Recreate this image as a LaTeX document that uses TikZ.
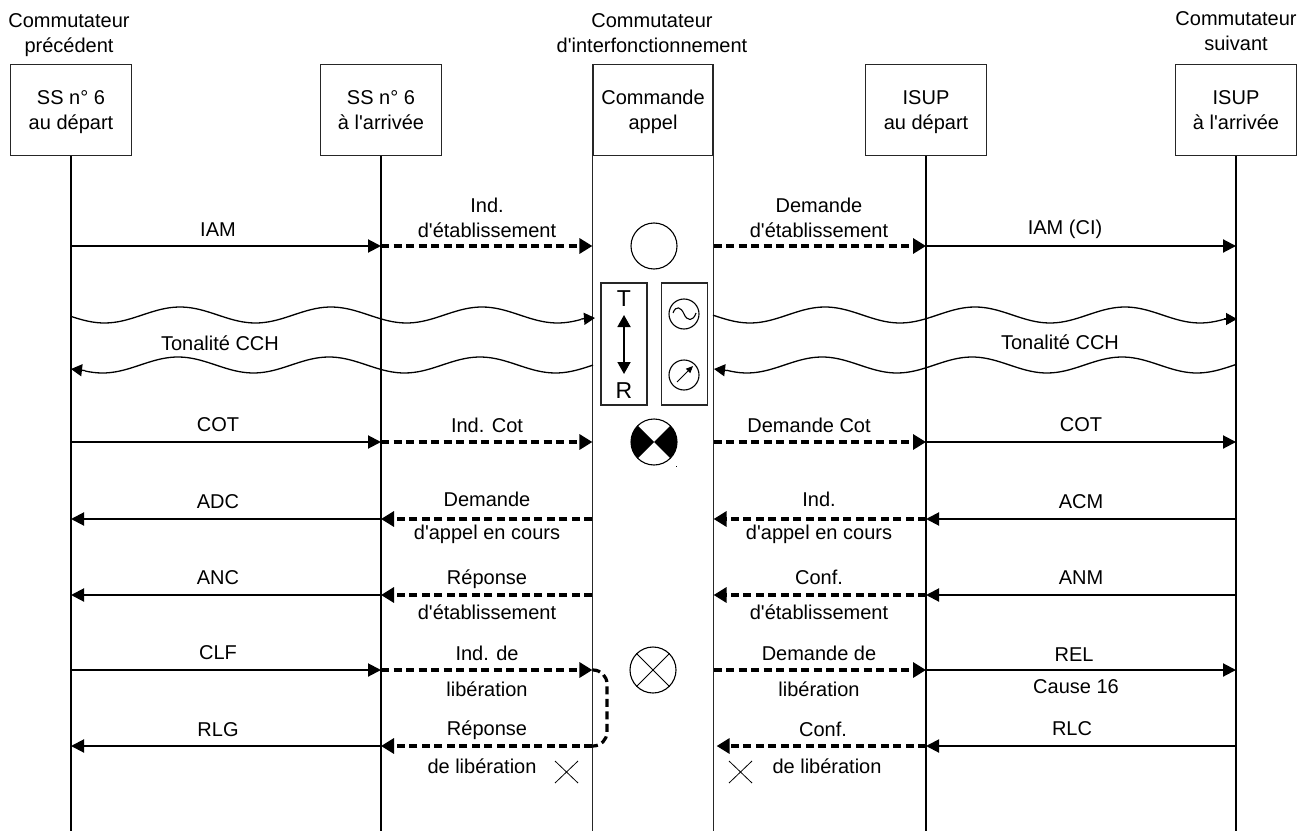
\documentclass[tikz,border=0pt]{standalone}
\usepackage{fontspec}
\newfontfamily\dfont{Liberation Sans}
\usetikzlibrary{arrows.meta}
\newcommand{\toprl}{\rule{0pt}{18pt}}
\newcommand{\botrl}{\vphantom{p}}
\tikzset{
  lab/.style={font=\dfont\fontsize{20}{25}\selectfont,inner sep=0pt,align=center,text=black},
  biglab/.style={font=\dfont\fontsize{23}{25}\selectfont,inner sep=0pt,text=black},
  boxn/.style={draw=black!85,line width=1.2pt,minimum width=121pt,minimum height=91pt,inner sep=0pt,align=center,font=\dfont\fontsize{20}{25}\selectfont},
  life/.style={line width=2pt,draw=black},
  lifethin/.style={line width=1.4pt,draw=black!85},
  msg/.style={line width=2pt,-{Triangle[length=13pt,width=13pt]}},
  dmsg/.style={line width=3.2pt,dash pattern=on 8pt off 4.5pt,-{Triangle[length=13pt,width=15pt]}},
  loopl/.style={line width=3.2pt,dash pattern=on 8pt off 4.5pt,rounded corners=14pt},
  wave/.style={line width=1.3pt},
  wavetip/.style={line width=1.3pt,-{Triangle[length=11pt,width=12pt]}},
  disc/.style={draw=black,line width=1.1pt,circle,minimum size=46pt,inner sep=0pt},
  smalld/.style={draw=black,line width=1.1pt,circle,minimum size=30pt,inner sep=0pt},
  panel/.style={draw=black!85,line width=1.2pt,minimum width=46pt,minimum height=122pt,inner sep=0pt},
  crossl/.style={line width=.8pt},
}
\begin{document}
\begin{tikzpicture}[x=1pt,y=-1pt]
\useasboundingbox (0,0) rectangle (1313,834);
% headers
\node[lab] (h1) at (69,35) {Commutateur\\précédent};
\node[lab] (h3) at (652,33) {Commutateur\\d'interfonctionnement};
\node[lab] (h5) at (1236,31) {Commutateur\\suivant};
% boxes
\node[boxn] (b1) at (71,110) {\toprl SS n° 6\\au départ\botrl};
\node[boxn] (b2) at (381,110) {\toprl SS n° 6\\à l'arrivée\botrl};
\node[boxn,minimum width=120pt] (b3) at (653,110) {\toprl Commande\\appel\botrl};
\node[boxn] (b4) at (926,110) {\toprl ISUP\\au départ\botrl};
\node[boxn] (b5) at (1236,110) {\toprl ISUP\\à l'arrivée\botrl};
% rows and end
\coordinate (bot) at (0,831);
\coordinate (r1) at (0,246);
\coordinate (r2) at (0,442);
\coordinate (r3) at (0,519);
\coordinate (r4) at (0,595);
\coordinate (r5) at (0,670);
\coordinate (r6) at (0,746);
% lifelines
\draw[life] (b1.south) -- (b1.south |- bot);
\draw[life] (b2.south) -- (b2.south |- bot);
\draw[lifethin] (b3.south west) -- (b3.south west |- bot);
\draw[lifethin] (b3.south east) -- (b3.south east |- bot);
\draw[life] (b4.south) -- (b4.south |- bot);
\draw[life] (b5.south) -- (b5.south |- bot);
% row 1
\draw[msg] (b1.south |- r1) -- (b2.south |- r1);
\draw[dmsg] (b2.south |- r1) -- (b3.south west |- r1);
\draw[dmsg] (b3.south east |- r1) -- (b4.south |- r1);
\draw[msg] (b4.south |- r1) -- (b5.south |- r1);
\node[lab] (t1) at (218,230) {IAM};
\node[lab] (t2) at (487,218) {Ind.\\d'établissement};
\node[lab] (t3) at (819,218) {Demande\\d'établissement};
\node[lab] (t4) at (1065,229) {IAM (CI)};
% waves
\coordinate (w1s) at (581,319);
\coordinate (w1a) at (595,318);
\coordinate (w2s) at (85,370.6);
\coordinate (w2a) at (71,369);
\coordinate (w3s) at (1224,319);
\coordinate (w3a) at (1237,319);
\coordinate (w4s) at (727,370.5);
\coordinate (w4a) at (714,369);
\draw[wave] plot[domain=71:581,samples=120] (\x,{315-8*cos((\x-180)*2.384)});
\draw[wavetip] (w1s) -- (w1a);
\draw[wave] plot[domain=85:593,samples=120] (\x,{365-8*cos((\x-178)*2.384)});
\draw[wavetip] (w2s) -- (w2a);
\draw[wave] plot[domain=713:1224,samples=120] (\x,{315-8*cos((\x-825)*2.4)});
\draw[wavetip] (w3s) -- (w3a);
\draw[wave] plot[domain=727:1236,samples=120] (\x,{365-8*cos((\x-822)*2.4)});
\draw[wavetip] (w4s) -- (w4a);
\node[lab] (t5) at (220,343) {Tonalité CCH};
\node[lab] (t6) at (1060,342) {Tonalité CCH};
% central symbols
\node[disc] (c1) at (654,246) {};
\node[panel] (p1) at (624,344) {};
\node[panel] (p2) at (684.5,344) {};
\node[biglab] (tT) at (624,299) {T};
\node[biglab] (tR) at (624,391) {R};
\coordinate (aT) at (624,315);
\coordinate (aR) at (624,374);
\draw[line width=1.8pt,{Triangle[length=12pt,width=13pt]}-{Triangle[length=12pt,width=13pt]}] (aT) -- (aR);
\node[smalld] (s1) at (684,314) {};
\node[smalld] (s2) at (684,375) {};
\draw[line width=1.1pt] (673,313) .. controls (676,305) and (681,307) .. (684,314) .. controls (687,321) and (693,322) .. (696,313);
\coordinate (g1) at (677,382);
\coordinate (g2) at (693,366);
\draw[line width=.9pt,-{Triangle[length=7pt,width=6pt]}] (g1) -- (g2);
\node[disc] (c2) at (654,442) {};
\fill plot[domain=135:225,samples=20] ({654+23*cos(\x)},{442+23*sin(\x)}) -- (c2.center) -- cycle;
\fill plot[domain=-45:45,samples=20] ({654+23*cos(\x)},{442+23*sin(\x)}) -- (c2.center) -- cycle;
\fill (676,466) rectangle (677,467);
\node[disc] (c3) at (653,670) {};
\draw[crossl] (c3.north west) -- (c3.south east);
\draw[crossl] (c3.north east) -- (c3.south west);
% row COT
\draw[msg] (b1.south |- r2) -- (b2.south |- r2);
\draw[dmsg] (b2.south |- r2) -- (b3.south west |- r2);
\draw[dmsg] (b3.south east |- r2) -- (b4.south |- r2);
\draw[msg] (b4.south |- r2) -- (b5.south |- r2);
\node[lab] (t7) at (218,425) {COT};
\node[lab] (t8) at (487,425) {Ind. Cot};
\node[lab] (t9) at (809,425) {Demande Cot};
\node[lab] (t10) at (1081,425) {COT};
% row ADC
\draw[msg] (b2.south |- r3) -- (b1.south |- r3);
\draw[dmsg] (b3.south west |- r3) -- (b2.south |- r3);
\draw[dmsg] (b4.south |- r3) -- (b3.south east |- r3);
\draw[msg] (b5.south |- r3) -- (b4.south |- r3);
\node[lab] (t11) at (218,502) {ADC};
\node[lab] (t12) at (487,518) {Demande\\[8pt]d'appel en cours};
\node[lab] (t13) at (819,518) {Ind.\\[8pt]d'appel en cours};
\node[lab] (t14) at (1081,502) {ACM};
% row ANC
\draw[msg] (b2.south |- r4) -- (b1.south |- r4);
\draw[dmsg] (b3.south west |- r4) -- (b2.south |- r4);
\draw[dmsg] (b4.south |- r4) -- (b3.south east |- r4);
\draw[msg] (b5.south |- r4) -- (b4.south |- r4);
\node[lab] (t15) at (218,578) {ANC};
\node[lab] (t16) at (487,595) {Réponse\\[10pt]d'établissement};
\node[lab] (t17) at (819,595) {Conf.\\[10pt]d'établissement};
\node[lab] (t18) at (1081,578) {ANM};
% loop
\draw[loopl] (b3.south west |- r5) -- (607,670) -- (607,746) -- (b3.south west |- r6);
% row CLF
\draw[msg] (b1.south |- r5) -- (b2.south |- r5);
\draw[dmsg] (b2.south |- r5) -- (b3.south west |- r5);
\draw[dmsg] (b3.south east |- r5) -- (b4.south |- r5);
\draw[msg] (b4.south |- r5) -- (b5.south |- r5);
\node[lab] (t19) at (218,653) {CLF};
\node[lab] (t20) at (487,671) {Ind. de\\[11pt]libération};
\node[lab] (t21) at (819,671) {Demande de\\[11pt]libération};
\node[lab] (t22) at (1074,655) {REL};
\node[lab] (t23) at (1076,687) {Cause 16};
% row RLG
\draw[msg] (b2.south |- r6) -- (b1.south |- r6);
\draw[dmsg] (b3.south west |- r6) -- (b2.south |- r6);
\draw[dmsg] (b4.south |- r6) -- ([xshift=3pt]b3.south east |- r6);
\draw[msg] (b5.south |- r6) -- (b4.south |- r6);
\node[lab] (t24) at (218,730) {RLG};
\node[lab] (t25) at (487,730) {Réponse};
\node[lab] (t26) at (482,766) {de libération};
\node[lab] (t27) at (823,729) {Conf.};
\node[lab] (t28) at (827,766) {de libération};
\node[lab] (t29) at (1072,729) {RLC};
% crosses
\coordinate (x1a) at (555,761); \coordinate (x1b) at (578,783);
\coordinate (x1c) at (555,783); \coordinate (x1d) at (578,761);
\coordinate (x2a) at (729,761); \coordinate (x2b) at (752,783);
\coordinate (x2c) at (729,783); \coordinate (x2d) at (752,761);
\draw[crossl] (x1a) -- (x1b); \draw[crossl] (x1c) -- (x1d);
\draw[crossl] (x2a) -- (x2b); \draw[crossl] (x2c) -- (x2d);
\end{tikzpicture}
\end{document}
